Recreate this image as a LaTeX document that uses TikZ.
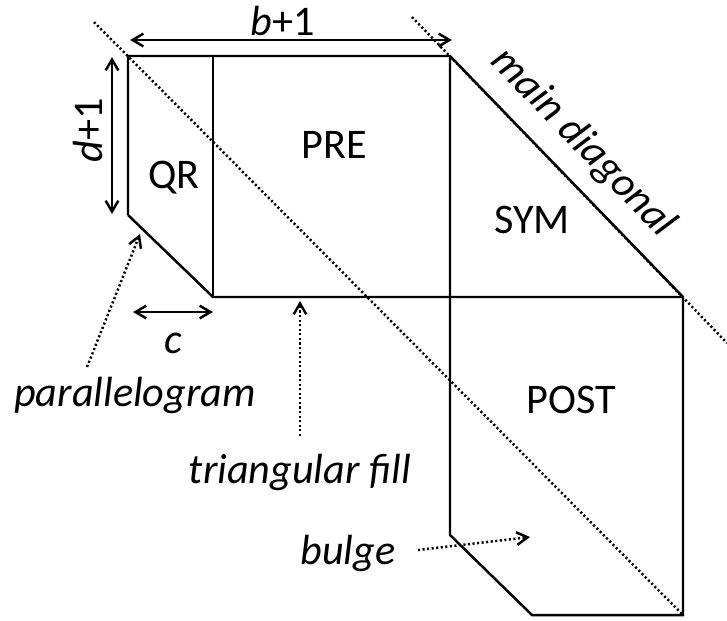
\documentclass[tikz,border=0pt]{standalone}
\usepackage{fontspec}
\setmainfont{Carlito}
\usepackage{tikz}
\usetikzlibrary{arrows.meta}
\tikzset{lbl/.style={inner sep=0pt,font=\fontsize{12}{14}\selectfont},
  ilbl/.style={inner sep=0pt,font=\fontsize{12}{14}\selectfont\itshape},
  dimarrow/.style={{Straight Barb[length=3.1pt,width=3.6pt]}-{Straight Barb[length=3.1pt,width=3.6pt]}},
  hintarrow/.style={-{Straight Barb[length=3.1pt,width=3.6pt]},dash pattern=on .6pt off .7pt},
  diag/.style={dash pattern=on .6pt off .7pt}}

\begin{document}
\begin{tikzpicture}[x=0.01cm,y=-0.01cm,line width=.7pt]
        \useasboundingbox (0,0) rectangle (727,620);
        %Corners
        \coordinate (tl) at (128,56);
        \coordinate (qrbl) at (128,215);
        \coordinate (qrtr) at (213,56);
        \coordinate (qrbr) at (213,297);
        \coordinate (tr) at (450,56);
        \coordinate (symr) at (683,297);
        \coordinate (br) at (683,615);
        \coordinate (bl) at (532,615);
        \coordinate (bulgetop) at (450,535);
        %Diagonals
        \coordinate (diagA) at (94,22);
        \coordinate (diagB) at (412,17);
        \coordinate (diagC) at (727,343);
        \draw[diag] (diagA) -- (br);
        \draw[diag] (diagB) -- (diagC);
        %Outline
        \draw (qrbl) -- (tl) -- (tr) -- (symr) -- (br) -- (bl) -- (bulgetop) -- (tr);
        \draw (qrbl) -- (qrbr) -- (symr);
        \draw (qrtr) -- (qrbr);
        %Blocks
        \node[lbl,anchor=base] (qr) at (174,188) {QR};
        \node[lbl,anchor=base] (pre) at (334,158) {PRE};
        \node[lbl,anchor=base] (sym) at (532,233) {SYM};
        \node[lbl,anchor=base] (post) at (571,413) {POST};
        \node[ilbl,rotate=-46] (maindiag) at (583,143) {main diagonal};
        %Sizes
        \coordinate (bdimL) at (130,40);
        \coordinate (bdimR) at (452,40);
        \draw[dimarrow] (bdimL) -- (bdimR);
        \node[lbl,anchor=base] (bdim) at (283,35) {\textit{b}+1};
        \coordinate (ddimT) at (112,57);
        \coordinate (ddimB) at (112,214);
        \draw[dimarrow] (ddimT) -- (ddimB);
        \node[lbl,anchor=base,rotate=90] (ddim) at (103,130) {\textit{d}+1};
        \coordinate (cdimL) at (133,312);
        \draw[dimarrow] (cdimL) -- (qrbr |- cdimL);
        \node[ilbl,anchor=base] (cdim) at (173,353) {c};
        %Notes
        \node[ilbl,anchor=base] (pgram) at (135,406) {parallelogram};
        \coordinate (pgramS) at (87,367);
        \coordinate (pgramE) at (140,234);
        \draw[hintarrow] (pgramS) -- (pgramE);
        \node[ilbl,anchor=base] (trifill) at (300,483) {triangular fill};
        \coordinate (trifillS) at (300,436);
        \coordinate (trifillE) at (300,301);
        \draw[hintarrow] (trifillS) -- (trifillE);
        \node[ilbl,anchor=base] (bulge) at (348,564) {bulge};
        \coordinate (bulgeS) at (418,550);
        \coordinate (bulgeE) at (530,537);
        \draw[hintarrow] (bulgeS) -- (bulgeE);
\end{tikzpicture}
\end{document}
